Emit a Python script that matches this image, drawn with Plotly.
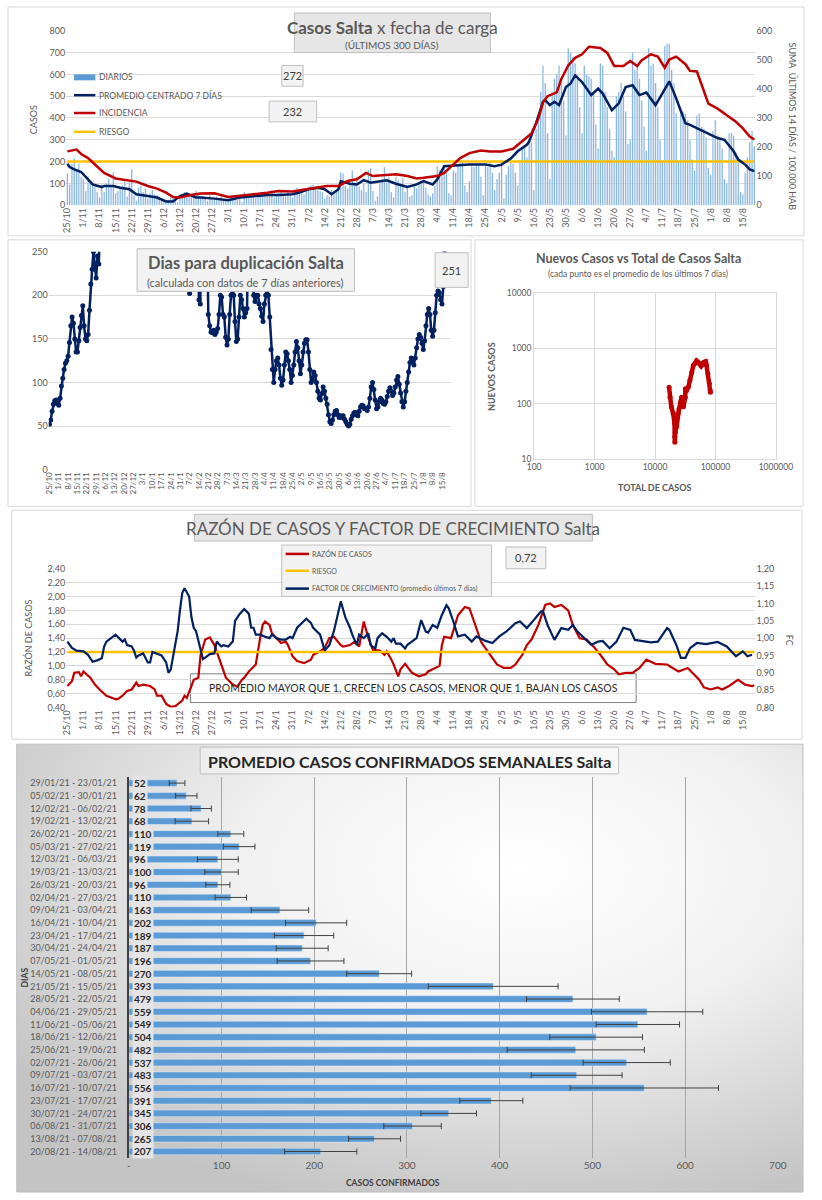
import base64
import pandas as pd
import plotly.graph_objects as go

W, H = 822, 1200
FONT = "Lato"
GRAY = "#595959"
DARK = "#262626"
NAVY = "#002060"
RED = "#c00000"
YELLOW = "#ffc000"
BLUE = "#5b9bd5"
GRID = "#d9d9d9"

START = "2020-10-25"

# ---------------- Panel 1: Casos Salta x fecha de carga ----------------
diarios = [
    145, 95, 190, 215, 160, 190, 130,
    120, 65, 130, 110, 95, 100, 60,
    35, 95, 60, 100, 120, 90, 150,
    55, 65, 80, 90, 115, 40, 105,
    165, 45, 20, 80, 95, 60, 75,
    30, 55, 70, 50, 45, 40, 30,
    20, 15, 25, 35, 40, 20, 15,
    30, 45, 60, 55, 50, 40, 35,
    65, 55, 30, 40, 35, 20, 45,
    25, 35, 40, 30, 45, 25, 20,
    20, 30, 35, 40, 25, 30, 15,
    60, 50, 45, 35, 40, 30, 55,
    40, 50, 60, 55, 45, 70, 35,
    45, 55, 65, 50, 40, 60, 45,
    35, 70, 80, 60, 55, 50, 65,
    85, 90, 95, 80, 70, 65, 60,
    30, 45, 40, 70, 55, 60, 85,
    150, 145, 90, 75, 100, 160, 105,
    130, 85, 70, 100, 60, 160, 170,
    65, 20, 40, 100, 120, 175, 105,
    130, 60, 35, 130, 115, 90, 125,
    60, 80, 40, 45, 95, 75, 100,
    105, 115, 80, 50, 40, 55, 90,
    180, 160, 165, 180, 150, 55, 45,
    160, 150, 185, 195, 200, 90, 60,
    110, 180, 175, 185, 185, 130, 45,
    180, 175, 200, 150, 70, 120, 150,
    200, 30, 140, 180, 220, 190, 150,
    90, 200, 260, 275, 220, 290, 290,
    70, 350, 385, 520, 640, 560, 330,
    120, 520, 580, 600, 640, 560, 480,
    320, 720, 700, 680, 650, 600, 450,
    330, 640, 600, 590, 580, 520, 370,
    260, 650, 640, 520, 450, 350, 250,
    220, 500, 520, 560, 500, 430, 280,
    300, 700, 620, 640, 580, 480, 360,
    250, 720, 640, 650, 560, 450, 300,
    200, 730, 740, 740, 620, 560, 420,
    200, 440, 430, 420, 390, 300, 210,
    160, 410, 420, 360, 350, 310, 170,
    140, 340, 390, 320, 300, 260, 120,
    100, 330, 330, 320, 240, 220, 60,
    50, 150, 220, 290, 340, 270,
]

prom_day = [0, 1, 3, 6, 9, 11, 15, 16, 20, 23, 27, 30, 35, 39, 43, 46, 49, 52, 56, 58,
            64, 70, 75, 81, 87, 92, 98, 101, 105, 109, 112, 115, 118, 119, 123, 126, 129,
            132, 136, 139, 143, 148, 152, 155, 159, 161, 164, 168, 175, 182, 186, 189,
            193, 196, 200, 201, 204, 207, 208, 210, 212, 214, 217, 219, 221, 224, 228,
            231, 233, 237, 240, 243, 246, 249, 252, 256, 260, 262, 265, 269, 271, 274,
            278, 283, 286, 290, 292, 295, 297, 299]
prom_val = [190, 175, 164, 152, 118, 95, 83, 88, 88, 80, 73, 50, 42, 35, 17, 17, 42, 53, 35, 35,
            30, 23, 35, 42, 47, 47, 50, 58, 73, 80, 73, 50, 73, 110, 98, 95, 115,
            103, 110, 114, 98, 83, 95, 110, 95, 118, 179, 182, 186, 186, 179, 186,
            214, 247, 277, 292, 376, 474, 482, 459, 474, 459, 542, 558, 595, 565, 505,
            535, 512, 436, 467, 542, 550, 505, 517, 459, 535, 568, 489, 376, 368, 353,
            330, 308, 300, 247, 209, 186, 164, 156]

inc_day = [0, 4, 6, 9, 12, 16, 21, 26, 30, 35, 39, 43, 46, 49, 53, 58, 64, 70, 75, 81,
           87, 92, 98, 104, 109, 113, 118, 122, 126, 130, 133, 137, 143, 148, 152, 155,
           161, 164, 168, 171, 175, 180, 184, 189, 194, 198, 202, 205, 207, 209, 213, 215,
           218, 221, 224, 227, 232, 235, 238, 242, 245, 248, 250, 254, 257, 260, 262, 265,
           269, 271, 274, 279, 283, 287, 291, 294, 297, 299]
inc_val = [185, 191, 176, 162, 140, 111, 92, 86, 81, 66, 57, 43, 28, 26, 34, 40, 41, 28, 32, 37,
           43, 49, 47, 55, 60, 66, 66, 83, 89, 111, 100, 103, 106, 100, 92, 94,
           100, 111, 142, 162, 179, 188, 185, 185, 194, 219, 247, 298, 354, 375, 388, 434,
           481, 507, 519, 545, 541, 524, 479, 479, 496, 479, 499, 519, 511, 473, 501, 511,
           485, 462, 460, 349, 332, 309, 287, 264, 236, 226]

RIESGO_CASOS = 200
LABEL_DIARIOS = "272"
LABEL_INCIDENCIA = "232"

# ---------------- Panel 2: Dias para duplicación ----------------
# (start day, consecutive daily values); values above 250 leave the chart
dup_segments = [
    (0, [52, 57, 67, 75, 79, 80, 76, 74, 82, 96, 105, 115, 122, 125, 130, 146, 165, 175,
         168, 150, 135, 135, 148, 163, 177, 188, 165, 150, 148, 155, 183, 213, 230, 250,
         230, 220, 245, 236, 290]),
    (104, [290, 202, 290]),
    (111, [290, 195, 190, 290]),
    (118, [290, 178, 165, 158, 157, 160, 155, 158, 162, 178, 200, 198, 178, 175, 152, 143,
           150, 178, 200, 205, 200, 170, 147, 150, 175, 200, 195, 185, 175, 180, 185, 290]),
    (152, [290, 200, 193, 200, 200, 190, 185, 176, 170, 190, 200, 205, 200, 175, 138, 115,
           100, 115, 125, 128, 120, 105, 97, 103, 120, 135, 133, 125, 115, 100, 108, 120,
           135, 147, 140, 125, 110, 120, 135, 145, 149, 149, 135, 115, 100, 103, 112, 108,
           100, 90, 82, 80, 87, 95, 90, 82, 75, 63, 55, 53, 57, 63, 67, 68, 63, 60, 62, 60,
           62, 58, 55, 52, 50, 52, 58, 62, 65, 66, 63, 62, 67, 72, 74, 73, 70, 70, 68, 72,
           82, 95, 100, 92, 80, 70, 72, 78, 82, 80, 76, 75, 78, 84, 90, 94, 90, 85, 88, 95,
           103, 107, 98, 88, 78, 72, 78, 90, 100, 112, 123, 128, 125, 120, 128, 140, 150,
           155, 152, 145, 138, 148, 165, 178, 185, 178, 160, 153, 160, 180, 200, 205, 203,
           195, 190, 210, 251]),
]
LABEL_DUP = "251"

# ---------------- Panel 3: Nuevos casos vs total ----------------
total_casos = [17100, 17700, 18600, 20000, 21000, 21200, 21300, 21600, 22700, 24000, 25000,
               26500, 27500, 29600, 31600, 31800, 33000, 35700, 37800, 40600, 43000, 46000,
               48600, 52000, 55000, 58000, 64000, 69000, 71000, 75000, 79500, 81800, 82500]
nuevos_casos = [198, 131, 88, 66, 44, 25, 20, 30, 38, 66, 80, 107, 131, 88, 131, 186, 170,
                200, 262, 371, 490, 540, 600, 560, 525, 480, 563, 580, 500, 350, 230, 174, 161]

# ---------------- Panel 4: Razón de casos y factor de crecimiento ----------------
razon_day = [0, 2, 3, 5, 6, 7, 10, 12, 14, 17, 21, 22, 24, 26, 28, 30, 31, 33, 36, 38, 39, 41,
             43, 45, 47, 50, 51, 52, 54, 55, 57, 58, 60, 62, 64, 66, 69, 72, 74, 76, 77, 79,
             82, 84, 85, 86, 88, 89, 91, 93, 95, 96, 98, 100, 103, 106, 107, 110, 112, 114,
             116, 119, 120, 123, 125, 127, 129, 131, 133, 136, 138, 139, 141, 142, 144, 145,
             147, 150, 153, 156, 157, 160, 162, 163, 164, 167, 170, 173, 175, 177, 180, 181,
             184, 187, 190, 193, 195, 198, 200, 202, 205, 208, 210, 212, 215, 218, 220, 223,
             226, 229, 232, 235, 238, 240, 243, 246, 249, 252, 256, 259, 261, 266, 270, 275,
             277, 280, 283, 285, 288, 291, 292, 295, 298, 299]
razon_val = [0.71, 0.78, 0.90, 0.91, 0.85, 0.92, 0.83, 0.73, 0.66, 0.57, 0.52, 0.52, 0.57, 0.64,
             0.66, 0.76, 0.71, 0.73, 0.71, 0.66, 0.57, 0.57, 0.45, 0.41, 0.42, 0.50, 0.57, 0.54,
             0.71, 0.80, 0.83, 1.16, 1.38, 1.41, 1.30, 1.10, 0.83, 0.73, 0.70, 0.80, 0.83, 0.92,
             1.02, 1.42, 1.59, 1.64, 1.59, 1.47, 1.40, 1.33, 1.35, 1.30, 1.14, 1.07, 1.04, 1.09,
             1.16, 1.21, 1.26, 1.40, 1.42, 1.30, 1.28, 1.30, 1.35, 1.28, 1.64, 1.40, 1.23, 1.22,
             1.16, 1.21, 1.09, 1.02, 0.85, 0.95, 1.03, 0.90, 0.85, 0.88, 0.92, 0.97, 1.00, 1.30,
             1.42, 1.40, 1.73, 1.85, 1.83, 1.64, 1.35, 1.30, 1.16, 1.02, 0.97, 0.97, 1.02, 1.16,
             1.30, 1.38, 1.59, 1.88, 1.90, 1.85, 1.88, 1.80, 1.59, 1.40, 1.38, 1.28, 1.16, 1.02,
             0.95, 0.88, 0.90, 0.90, 0.97, 1.09, 1.03, 1.02, 1.02, 0.92, 0.97, 0.80, 0.69, 0.66,
             0.69, 0.66, 0.71, 0.78, 0.80, 0.73, 0.71, 0.72]

fc_day = [0, 2, 4, 7, 9, 11, 13, 15, 16, 17, 19, 21, 24, 25, 26, 28, 29, 30, 31, 33, 35, 36,
          37, 39, 41, 43, 44, 45, 46, 48, 49, 50, 51, 53, 54, 55, 56, 58, 59, 60, 62, 64, 65,
          67, 68, 70, 72, 73, 75, 77, 79, 80, 81, 82, 84, 86, 88, 89, 91, 93, 95, 97, 98, 100,
          102, 104, 106, 107, 110, 111, 112, 114, 116, 119, 121, 123, 124, 126, 127, 129, 131,
          132, 134, 135, 137, 139, 141, 142, 143, 145, 147, 148, 150, 152, 154, 156, 157, 159,
          161, 163, 165, 166, 168, 170, 173, 176, 178, 182, 185, 188, 191, 195, 197, 200, 203,
          206, 207, 209, 212, 215, 218, 220, 222, 225, 228, 231, 233, 236, 239, 242, 245, 247,
          251, 254, 257, 261, 262, 265, 267, 269, 271, 274, 278, 283, 287, 291, 294, 296, 298]
fc_val = [0.990, 0.972, 0.964, 0.962, 0.952, 0.932, 0.936, 0.942, 0.976, 0.990, 1.000, 1.010,
          0.990, 0.996, 0.980, 0.976, 0.964, 0.944, 0.950, 0.956, 0.930, 0.930, 0.960, 0.956,
          0.950, 0.930, 0.900, 0.910, 0.950, 1.020, 1.080, 1.130, 1.144, 1.120, 1.060, 1.030,
          1.020, 0.960, 0.940, 0.944, 0.954, 0.956, 0.990, 0.976, 0.980, 0.976, 0.990, 1.050,
          1.070, 1.084, 1.070, 1.030, 1.030, 1.010, 1.010, 1.004, 1.000, 1.010, 1.000, 0.996,
          0.996, 1.004, 1.000, 1.030, 1.044, 1.056, 1.044, 1.030, 1.010, 0.984, 0.964, 0.980,
          1.020, 1.106, 1.060, 1.030, 1.010, 0.980, 1.010, 1.000, 1.014, 0.980, 0.970, 1.000,
          1.014, 1.004, 0.990, 1.000, 0.984, 0.984, 0.970, 0.981, 0.990, 1.000, 1.052, 1.019,
          1.016, 1.038, 1.030, 1.067, 1.095, 1.086, 1.048, 1.005, 1.010, 0.990, 1.005, 0.992,
          0.986, 1.005, 1.019, 1.043, 1.048, 1.029, 1.052, 1.076, 1.078, 1.038, 0.995, 1.029,
          1.024, 1.038, 1.019, 1.000, 0.981, 0.990, 0.992, 0.971, 0.990, 1.030, 1.024, 0.995,
          0.990, 0.988, 0.990, 1.029, 1.024, 0.981, 0.943, 0.943, 0.971, 0.986, 0.983, 0.989,
          0.976, 0.948, 0.962, 0.948, 0.952]

RIESGO_RAZON = 1.20
LABEL_RAZON = "0,72"

# ---------------- Panel 5: Promedio casos confirmados semanales ----------------
semanas = ["29/01/21 - 23/01/21", "05/02/21 - 30/01/21", "12/02/21 - 06/02/21",
           "19/02/21 - 13/02/21", "26/02/21 - 20/02/21", "05/03/21 - 27/02/21",
           "12/03/21 - 06/03/21", "19/03/21 - 13/03/21", "26/03/21 - 20/03/21",
           "02/04/21 - 27/03/21", "09/04/21 - 03/04/21", "16/04/21 - 10/04/21",
           "23/04/21 - 17/04/21", "30/04/21 - 24/04/21", "07/05/21 - 01/05/21",
           "14/05/21 - 08/05/21", "21/05/21 - 15/05/21", "28/05/21 - 22/05/21",
           "04/06/21 - 29/05/21", "11/06/21 - 05/06/21", "18/06/21 - 12/06/21",
           "25/06/21 - 19/06/21", "02/07/21 - 26/06/21", "09/07/21 - 03/07/21",
           "16/07/21 - 10/07/21", "23/07/21 - 17/07/21", "30/07/21 - 24/07/21",
           "06/08/21 - 31/07/21", "13/08/21 - 07/08/21", "20/08/21 - 14/08/21"]
promedio_semanal = [52, 62, 78, 68, 110, 119, 96, 100, 96, 110, 163, 202, 189, 187, 196, 270,
                    393, 479, 559, 549, 504, 482, 537, 483, 556, 391, 345, 306, 265, 207]
error_semanal = [8.5, 11.5, 11, 18, 14, 17, 22, 18, 13, 17, 31, 33, 32, 28, 36, 35, 70, 50,
                 60, 45, 50, 74, 47, 49, 80, 34, 30, 31, 28, 39]

# ====================================================================
def X(px):
    return px / W


def Y(py):
    return 1 - py / H


base = pd.Timestamp(START)
days_index = pd.date_range(START, periods=len(diarios), freq="D")


def to_dates(days):
    return [None if d is None else base + pd.Timedelta(days=d) for d in days]


dup_x, dup_y = [], []
for start, vals in dup_segments:
    if dup_x:
        dup_x.append(None)
        dup_y.append(None)
    dup_x.extend(range(start, start + len(vals)))
    dup_y.extend(vals)

fig = go.Figure()

# Panel 1
fig.add_trace(go.Bar(x=days_index, y=diarios, marker_color=BLUE, width=0.55 * 86400000,
                     xaxis="x", yaxis="y", name="DIARIOS"))
fig.add_trace(go.Scatter(x=[days_index[0], days_index[-1]], y=[RIESGO_CASOS] * 2, mode="lines",
                         line=dict(color=YELLOW, width=2.5), xaxis="x", yaxis="y"))
fig.add_trace(go.Scatter(x=to_dates(inc_day), y=inc_val, mode="lines",
                         line=dict(color=RED, width=2.5), xaxis="x", yaxis="y2"))
fig.add_trace(go.Scatter(x=to_dates(prom_day), y=prom_val, mode="lines",
                         line=dict(color=NAVY, width=2.5), xaxis="x", yaxis="y"))

# Panel 2
fig.add_trace(go.Scatter(x=to_dates(dup_x), y=dup_y, mode="lines+markers",
                         line=dict(color=NAVY, width=2.5), marker=dict(color=NAVY, size=5),
                         xaxis="x2", yaxis="y3", connectgaps=False))

# Panel 3
fig.add_trace(go.Scatter(x=total_casos, y=nuevos_casos, mode="lines+markers",
                         line=dict(color=RED, width=4.5), marker=dict(color=RED, size=5),
                         xaxis="x3", yaxis="y4"))

# Panel 4
fig.add_trace(go.Scatter(x=to_dates(razon_day), y=razon_val, mode="lines",
                         line=dict(color=RED, width=2.2), xaxis="x4", yaxis="y5"))
fig.add_trace(go.Scatter(x=[days_index[0], days_index[-1]], y=[RIESGO_RAZON] * 2, mode="lines",
                         line=dict(color=YELLOW, width=2.5), xaxis="x4", yaxis="y5"))
fig.add_trace(go.Scatter(x=to_dates(fc_day), y=fc_val, mode="lines",
                         line=dict(color=NAVY, width=2.2), xaxis="x4", yaxis="y6"))

# Panel 5
fig.add_trace(go.Bar(x=promedio_semanal, y=semanas, orientation="h", marker_color=BLUE,
                     width=0.52, xaxis="x5", yaxis="y7",
                     error_x=dict(type="data", array=error_semanal, color="#404040",
                                  thickness=1, width=3)))

tickf = dict(family=FONT, size=9, color=GRAY)
date_range1 = ["2020-10-24 12:00:00", "2021-08-20 12:00:00"]
date_common = dict(type="date", tick0=START, dtick=7 * 86400000, tickformat="%-d/%-m",
                   tickangle=-90, showgrid=False, zeroline=False, ticks="")

razon_ticks = [0.4, 0.6, 0.8, 1.0, 1.2, 1.4, 1.6, 1.8, 2.0, 2.2, 2.4]
fc_ticks = [0.80, 0.85, 0.90, 0.95, 1.00, 1.05, 1.10, 1.15, 1.20]

fig.update_layout(
    width=W, height=H, margin=dict(l=0, r=0, t=0, b=0),
    paper_bgcolor="white", plot_bgcolor="rgba(0,0,0,0)", showlegend=False,
    font=dict(family=FONT, color=GRAY),
    xaxis=dict(domain=[X(61), X(771)], range=date_range1, anchor="y", tickfont=tickf,
               **date_common),
    yaxis=dict(domain=[Y(201), Y(25)], range=[0, 800], dtick=100, gridcolor=GRID,
               zeroline=False, tickfont=tickf, anchor="x"),
    yaxis2=dict(overlaying="y", side="right", range=[0, 600], dtick=100, showgrid=False,
                zeroline=False, tickfont=tickf, anchor="x"),
    xaxis2=dict(domain=[X(43), X(457)], range=["2020-10-24 12:00:00", "2021-08-21 12:00:00"],
                anchor="y3", tickfont=dict(family=FONT, size=8, color=GRAY), **date_common),
    yaxis3=dict(domain=[Y(468), Y(248)], range=[0, 250], dtick=50, gridcolor=GRID,
                zeroline=False, tickfont=tickf, anchor="x2"),
    xaxis3=dict(type="log", domain=[X(543), X(792)], range=[2, 6],
                tickvals=[100, 1000, 10000, 100000, 1000000],
                ticktext=["100", "1000", "10000", "100000", "1000000"],
                gridcolor=GRID, showline=True, mirror=True, linecolor=GRID, zeroline=False,
                tickfont=dict(family=FONT, size=8.5, color=GRAY), anchor="y4"),
    yaxis4=dict(type="log", domain=[Y(457), Y(290)], range=[1, 4],
                tickvals=[10, 100, 1000, 10000], ticktext=["10", "100", "1000", "10000"],
                gridcolor=GRID, showline=True, mirror=True, linecolor=GRID, zeroline=False,
                tickfont=dict(family=FONT, size=8.5, color=GRAY), anchor="x3"),
    xaxis4=dict(domain=[X(61), X(771)], range=date_range1, anchor="y5", tickfont=tickf,
                **date_common),
    yaxis5=dict(domain=[Y(708), Y(568)], range=[0.4, 2.4], tickvals=razon_ticks,
                ticktext=[f"{v:.2f}".replace(".", ",") for v in razon_ticks],
                gridcolor=GRID, zeroline=False, tickfont=tickf, anchor="x4"),
    yaxis6=dict(overlaying="y5", side="right", range=[0.8, 1.2], tickvals=fc_ticks,
                ticktext=[f"{v:.2f}".replace(".", ",") for v in fc_ticks],
                showgrid=False, zeroline=False, tickfont=tickf, anchor="x4"),
    xaxis5=dict(domain=[X(125.5), X(794)], range=[0, 700],
                tickvals=[0, 100, 200, 300, 400, 500, 600, 700],
                ticktext=["-", "100", "200", "300", "400", "500", "600", "700"],
                gridcolor="#a6a6a6", zeroline=False, anchor="y7",
                tickfont=dict(family=FONT, size=10, color=GRAY)),
    yaxis7=dict(domain=[Y(1162.5), Y(777.9)], type="category", range=[len(semanas) - 0.5, -0.5],
                showline=True, linecolor="#404040", linewidth=2, showgrid=False,
                ticklabelstandoff=8, tickfont=dict(family=FONT, size=9, color=GRAY),
                anchor="x5"),
)

# background gradient for panel 5
svg = ('<svg xmlns="http://www.w3.org/2000/svg" width="810" height="452">'
       '<defs><radialGradient id="g" cx="0.64" cy="0.28" r="0.78">'
       '<stop offset="0" stop-color="#ffffff"/><stop offset="0.45" stop-color="#f1f1f1"/>'
       '<stop offset="1" stop-color="#c4c4c4"/></radialGradient></defs>'
       '<rect width="810" height="452" fill="url(#g)"/></svg>')
fig.add_layout_image(dict(source="data:image/svg+xml;base64," + base64.b64encode(svg.encode()).decode(),
                          xref="paper", yref="paper", x=X(10), y=Y(745), sizex=810 / W,
                          sizey=452 / H, sizing="stretch", xanchor="left", yanchor="top",
                          layer="below"))


def rect(x0, y0, x1, y1, fill="rgba(0,0,0,0)", line="#bfbfbf", width=1, layer="above"):
    return dict(type="rect", xref="paper", yref="paper", x0=X(x0), x1=X(x1), y0=Y(y1), y1=Y(y0),
                fillcolor=fill, line=dict(color=line, width=width), layer=layer)


def seg(x0, x1, y, color, width=2.5):
    return dict(type="line", xref="paper", yref="paper", x0=X(x0), x1=X(x1), y0=Y(y), y1=Y(y),
                line=dict(color=color, width=width), layer="above")


shapes = [
    rect(1, 1, 821, 232, line=GRID, layer="below"),
    rect(1, 236, 478, 505, line=GRID, layer="below"),
    rect(482, 236, 820, 505, line=GRID, layer="below"),
    rect(5, 509, 819, 740, line=GRID, layer="below"),
    rect(10, 745, 820, 1197, line="#bfbfbf", layer="below"),
    # panel 1
    rect(296, 7, 498, 47, fill="#e7e6e6"),
    rect(283, 60, 305, 81, fill="#f2f2f2"),
    rect(270, 96, 319, 117, fill="#f2f2f2"),
    rect(69, 69, 91, 75, fill=BLUE, line=BLUE, width=0),
    seg(69, 91, 90, NAVY), seg(69, 91, 108, RED), seg(69, 91, 127, YELLOW),
    # panel 2
    rect(134, 245, 358, 288, fill="#f2f2f2"),
    rect(441, 249, 475, 284, fill="#f2f2f2"),
    # panel 4
    rect(193, 513, 603, 540, fill="#e7e6e6"),
    rect(283, 544, 499, 596, fill="#f2f2f2"),
    seg(287, 311, 553, RED), seg(287, 311, 570, YELLOW), seg(287, 311, 588, NAVY),
    rect(514, 546, 555, 568, fill="#f2f2f2"),
    rect(189, 674, 648, 703, fill="white", line="#7f7f7f", layer="below"),
    # panel 5
    rect(199, 748, 630, 775, fill="rgba(255,255,255,0.35)"),
]
fig.update_layout(shapes=shapes)


def ann(text, px, py, size, color=GRAY, xanchor="center", angle=0, **kw):
    return dict(text=text, x=X(px), y=Y(py), xref="paper", yref="paper", showarrow=False,
                font=dict(family=FONT, size=size, color=color), xanchor=xanchor,
                yanchor="middle", textangle=angle, **kw)


annotations = [
    ann("<b>Casos Salta</b> x fecha de carga", 397, 22, 17),
    ann("(ÚLTIMOS 300 DÍAS)", 397, 39, 10),
    ann(LABEL_DIARIOS, 294, 70.5, 11, color="#404040"),
    ann(LABEL_INCIDENCIA, 294.5, 106.5, 11, color="#404040"),
    ann("DIARIOS", 93, 72, 8.5, xanchor="left"),
    ann("PROMEDIO CENTRADO 7 DÍAS", 93, 90, 8.5, xanchor="left"),
    ann("INCIDENCIA", 93, 108, 8.5, xanchor="left"),
    ann("RIESGO", 93, 127, 8.5, xanchor="left"),
    ann("CASOS", 28, 115, 9, angle=-90),
    ann("SUMA  ÚLTIMOS 14 DÍAS / 100.000 HAB", 809, 122, 9, angle=90),
    ann("<b>Dias para duplicación Salta</b>", 246, 259, 16.5),
    ann("(calculada con datos de 7 días anteriores)", 246, 279, 11),
    ann(LABEL_DUP, 458, 267, 11, color="#404040"),
    ann("<b>Nuevos Casos vs Total de Casos Salta</b>", 650, 255, 12.5),
    ann("(cada punto es el promedio de los últimos 7 días)", 650, 270, 8.5),
    ann("<b>TOTAL DE CASOS</b>", 667, 486, 9),
    ann("<b>NUEVOS CASOS</b>", 499, 374, 9, angle=-90),
    ann("RAZÓN DE CASOS Y FACTOR DE CRECIMIENTO Salta", 398, 527, 17),
    ann("RAZÓN DE CASOS", 312, 553, 7, xanchor="left"),
    ann("RIESGO", 312, 570, 7, xanchor="left"),
    ann("FACTOR DE CRECIMIENTO (promedio últimos 7 días)", 312, 588, 7, xanchor="left"),
    ann(LABEL_RAZON, 534.5, 557, 11, color="#404040"),
    ann("PROMEDIO MAYOR QUE 1, CRECEN LOS CASOS, MENOR QUE 1, BAJAN LOS CASOS", 418.5, 688.5,
        10.5, color=DARK),
    ann("RAZÓN DE CASOS", 22, 638, 9, angle=-90),
    ann("FC", 806, 640, 9, angle=90),
    ann("<b>PROMEDIO CASOS CONFIRMADOS SEMANALES Salta</b>", 414.5, 762, 16, color=DARK),
    ann("<b>CASOS CONFIRMADOS</b>", 398, 1188, 8.5, color="#404040"),
    ann("<b>DIAS</b>", 19, 980, 8.5, color="#404040", angle=-90),
]
for lab, v in zip(semanas, promedio_semanal):
    annotations.append(dict(text=f"<b>{v}</b>", x=X(129), y=lab, xref="paper", yref="y7",
                            showarrow=False, xanchor="left", yanchor="middle",
                            font=dict(family=FONT, size=10, color=DARK),
                            bgcolor="#e4e4e4", borderpad=1))
fig.update_layout(annotations=annotations)

fig.write_html("out.html", config={"displayModeBar": False},
               post_script="document.body.style.margin='0px';")
